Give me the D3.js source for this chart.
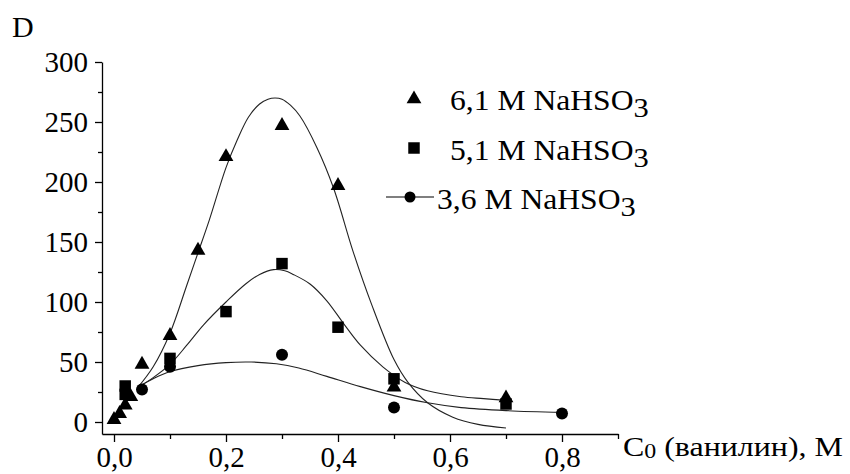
<!DOCTYPE html>
<html>
<head>
<meta charset="utf-8">
<script src="https://cdn.jsdelivr.net/npm/d3@7"></script>
<style>
  body { margin: 0; background: #fff; }
  svg { display: block; }
  text { font-family: "Liberation Serif", "Times New Roman", serif; fill: #000; }
</style>
</head>
<body>
<svg id="chart" width="850" height="474"></svg>
<script>
// ---- data ----
const seriesNames = ["6,1 M NaHSO", "5,1 M NaHSO", "3,6 M NaHSO"];

// 6,1 M NaHSO3 (triangles)
const triX = [0, 0.01, 0.02, 0.03, 0.05, 0.1, 0.15, 0.2, 0.3, 0.4, 0.5, 0.7];
const triD = [2, 7, 14, 21, 48, 72, 143, 221, 247, 197, 29, 20];
// 5,1 M NaHSO3 (squares)
const sqX = [0.02, 0.02, 0.1, 0.2, 0.3, 0.4, 0.5, 0.7];
const sqD = [30, 23, 53, 92, 132, 79, 36, 15];
// 3,6 M NaHSO3 (circles)
const ciX = [0.05, 0.1, 0.3, 0.5, 0.8];
const ciD = [27, 46, 56, 12, 7];

// fitted curves
const fitTriX = [0.043, 0.07, 0.1, 0.13, 0.15, 0.17, 0.2, 0.22, 0.24, 0.26, 0.275, 0.2875, 0.3, 0.315, 0.332, 0.362, 0.392, 0.427, 0.46, 0.5, 0.525, 0.56, 0.605, 0.65, 0.7];
const fitTriD = [29, 46, 74, 114, 141, 168, 212, 235, 254, 265, 269, 270, 269, 264, 255, 229, 195, 142, 98, 52, 33, 16, 4, -2, -5];
const fitSqX = [0.043, 0.07, 0.1, 0.13, 0.16, 0.2, 0.235, 0.26, 0.285, 0.305, 0.32, 0.35, 0.38, 0.41, 0.44, 0.48, 0.52, 0.56, 0.62, 0.66, 0.7];
const fitSqD = [29, 37, 48, 64, 81, 100, 115, 123, 127, 126, 123, 115, 101, 82, 64, 46, 33, 26, 21, 19.5, 18];
const fitCiX = [0.043, 0.07, 0.1, 0.15, 0.2, 0.245, 0.29, 0.33, 0.38, 0.44, 0.5, 0.56, 0.62, 0.7, 0.8];
const fitCiD = [29, 36, 42, 47, 49.5, 50, 48.5, 45, 38, 29.5, 22, 16, 12, 9.5, 8];

const xMajor = [0, 0.2, 0.4, 0.6, 0.8];
const xMinor = [0.1, 0.3, 0.5, 0.7, 0.9];
const yMajor = [0, 50, 100, 150, 200, 250, 300];
const yMinor = [25, 75, 125, 175, 225, 275];

// ---- scales ----
const svg = d3.select("#chart");
const x = d3.scaleLinear().domain([-0.02143, 0.9]).range([102, 618]);
const y = d3.scaleLinear().domain([-10, 300]).range([434, 62]);

const fmt = v => d3.format(".1f")(v).replace(".", ",");

// ---- axes ----
const gy = svg.append("g").attr("transform", "translate(102,0)");
gy.call(d3.axisLeft(y).tickValues(yMajor).tickSize(7).tickSizeOuter(0).tickPadding(7));
gy.append("g").call(d3.axisLeft(y).tickValues(yMinor).tickSize(4).tickSizeOuter(0).tickFormat(""))
  .select(".domain").remove();
gy.selectAll("text").attr("font-size", 29).attr("font-family", "Liberation Serif")
  .attr("dy", "0.34em").attr("fill", "#000");

const gx = svg.append("g").attr("transform", "translate(0,434)");
gx.call(d3.axisBottom(x).tickValues(xMajor).tickSize(8).tickSizeOuter(0).tickFormat(fmt));
gx.append("g").call(d3.axisBottom(x).tickValues(xMinor).tickSize(5).tickSizeOuter(0).tickFormat(""))
  .select(".domain").remove();
gx.selectAll("text").attr("font-size", 29).attr("font-family", "Liberation Serif")
  .attr("y", 33).attr("dy", 0).attr("fill", "#000");
svg.selectAll(".domain, .tick line").attr("stroke", "#000").attr("stroke-width", 1.3);

// ---- fit curves ----
const line = d3.line().x(d => x(d[0])).y(d => y(d[1])).curve(d3.curveCatmullRom.alpha(0.5));
[[fitTriX, fitTriD], [fitSqX, fitSqD], [fitCiX, fitCiD]].forEach(([xs, ds]) => {
  svg.append("path").datum(xs.map((v, i) => [v, ds[i]]))
    .attr("d", line).attr("fill", "none").attr("stroke", "#222").attr("stroke-width", 1.1);
});

// ---- markers ----
const tri = d3.symbol().type(d3.symbolTriangle).size(95);
const sq = d3.symbol().type(d3.symbolSquare).size(132);
svg.append("g").selectAll("path").data(triX.map((v, i) => [v, triD[i]])).join("path")
  .attr("d", tri).attr("transform", d => `translate(${x(d[0])},${y(d[1])})`).attr("fill", "#000");
svg.append("g").selectAll("path").data(sqX.map((v, i) => [v, sqD[i]])).join("path")
  .attr("d", sq).attr("transform", d => `translate(${x(d[0])},${y(d[1])})`).attr("fill", "#000");
svg.append("g").selectAll("circle").data(ciX.map((v, i) => [v, ciD[i]])).join("circle")
  .attr("cx", d => x(d[0])).attr("cy", d => y(d[1])).attr("r", 6).attr("fill", "#000");

// ---- legend ----
const leg = svg.append("g");
leg.append("path").attr("d", tri).attr("transform", "translate(414,99)").attr("fill", "#000");
leg.append("path").attr("d", sq).attr("transform", "translate(414,148)").attr("fill", "#000");
leg.append("line").attr("x1", 386).attr("x2", 434).attr("y1", 197).attr("y2", 197)
  .attr("stroke", "#000").attr("stroke-width", 1.2);
leg.append("circle").attr("cx", 410).attr("cy", 197).attr("r", 5.5).attr("fill", "#000");
const legRows = [[450, 110], [450, 160], [437, 209]];
seriesNames.forEach((name, i) => {
  const t = leg.append("text")
    .attr("transform", `translate(${legRows[i][0]},${legRows[i][1]}) scale(1.09,1)`)
    .attr("font-size", 29);
  t.append("tspan").text(name);
  t.append("tspan").attr("dy", 7).attr("font-size", 28).text("3");
});

// ---- axis titles ----
svg.append("text").attr("x", 12).attr("y", 37).attr("font-size", 30).text("D");
const xt = svg.append("text").attr("transform", "translate(623,456) scale(1.14,1)").attr("font-size", 28);
xt.append("tspan").text("C");
xt.append("tspan").attr("dy", 2).attr("font-size", 21).text("0");
xt.append("tspan").attr("dy", -2).text(" (ванилин), M");
</script>
</body>
</html>
